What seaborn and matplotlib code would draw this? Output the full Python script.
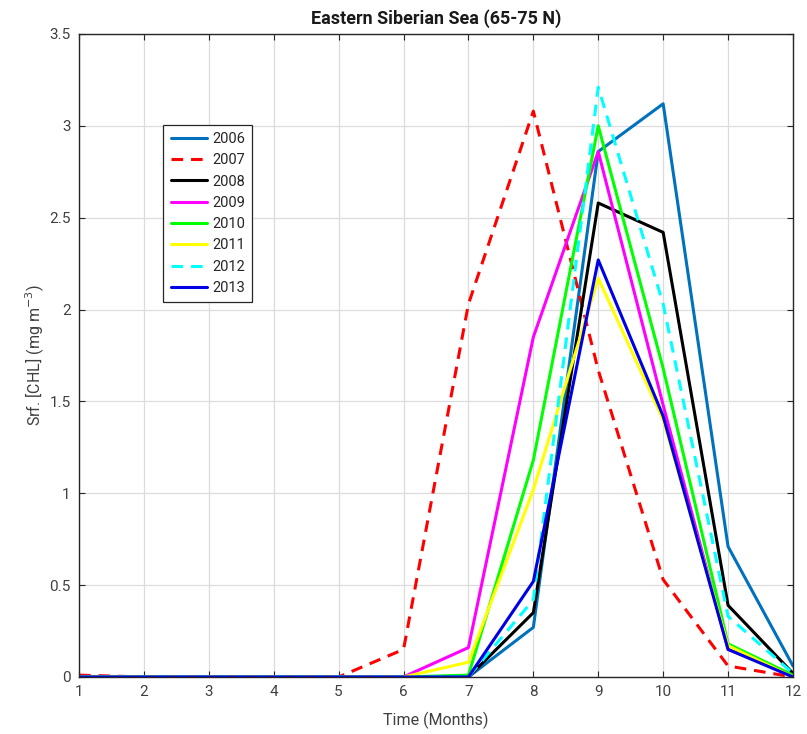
import numpy as np
import pandas as pd
import matplotlib
matplotlib.use("Agg")
import matplotlib.pyplot as plt
import seaborn as sns

# Monthly surface chlorophyll (mg m^-3), Eastern Siberian Sea, 65-75 N
months = [1, 2, 3, 4, 5, 6, 7, 8, 9, 10, 11, 12]
years = ["2006", "2007", "2008", "2009", "2010", "2011", "2012", "2013"]

chl_2006 = [0.0, 0.0, 0.0, 0.0, 0.0, 0.0, 0.0, 0.27, 2.86, 3.12, 0.71, 0.06]
chl_2007 = [0.01, 0.0, 0.0, 0.0, 0.0, 0.15, 2.03, 3.08, 1.67, 0.53, 0.06, 0.0]
chl_2008 = [0.0, 0.0, 0.0, 0.0, 0.0, 0.0, 0.0, 0.35, 2.58, 2.42, 0.39, 0.02]
chl_2009 = [0.0, 0.0, 0.0, 0.0, 0.0, 0.0, 0.16, 1.85, 2.86, 1.48, 0.15, 0.01]
chl_2010 = [0.0, 0.0, 0.0, 0.0, 0.0, 0.0, 0.01, 1.18, 3.00, 1.68, 0.18, 0.01]
chl_2011 = [0.0, 0.0, 0.0, 0.0, 0.0, 0.0, 0.08, 1.02, 2.17, 1.40, 0.17, 0.0]
chl_2012 = [0.0, 0.0, 0.0, 0.0, 0.0, 0.0, 0.0, 0.42, 3.21, 2.03, 0.33, 0.02]
chl_2013 = [0.0, 0.0, 0.0, 0.0, 0.0, 0.0, 0.0, 0.52, 2.27, 1.42, 0.15, 0.0]

series = [chl_2006, chl_2007, chl_2008, chl_2009,
          chl_2010, chl_2011, chl_2012, chl_2013]

colors = {"2006": "#0072BD", "2007": "#FF0000", "2008": "#000000",
          "2009": "#FF00FF", "2010": "#00FF00", "2011": "#FFFF00",
          "2012": "#00FFFF", "2013": "#0000E6"}
dashed = {"2007", "2012"}

df = pd.DataFrame({
    "month": np.tile(months, len(years)),
    "chl": np.concatenate(series),
    "year": np.repeat(years, len(months)),
})

sns.set_style("whitegrid")
plt.rcParams["font.family"] = ["Roboto", "DejaVu Sans"]

fig = plt.figure(figsize=(8.07, 7.34), dpi=100)
ax = fig.add_axes([0.0979, 0.0777, 0.8847, 0.876])

for yr in years:
    sub = df[df["year"] == yr]
    sns.lineplot(data=sub, x="month", y="chl", ax=ax, color=colors[yr],
                 linewidth=2.2, label=yr, legend=False)
    ln = ax.lines[-1]
    if yr in dashed:
        ln.set_dashes((3.8, 2.6))

ax.set_xlim(1, 12)
ax.set_ylim(0, 3.5)
ax.set_xticks(months)
ax.set_yticks([0, 0.5, 1, 1.5, 2, 2.5, 3, 3.5])
ax.set_yticklabels(["0", "0.5", "1", "1.5", "2", "2.5", "3", "3.5"])

ax.grid(True, color="#dcdcdc", linewidth=0.9)
for sp in ax.spines.values():
    sp.set_visible(True)
    sp.set_color("#262626")
    sp.set_linewidth(1.0)

ax.tick_params(axis="both", which="both", direction="in", length=4, width=0.8,
               color="#262626", labelsize=11, labelcolor="#404040",
               top=True, right=True, bottom=True, left=True, pad=6)

ax.set_xlabel("Time (Months)", fontsize=11.5, color="#404040", labelpad=9)
ax.set_ylabel("Srf. [CHL] (mg m$^{-3}$)", fontsize=11.5, color="#404040", labelpad=2)
ax.set_title("Eastern Siberian Sea (65-75 N)", fontsize=13, fontweight="bold",
             color="#1a1a1a", pad=7)

leg = ax.legend(loc="upper left", bbox_to_anchor=(0.118, 0.859), fontsize=10.5,
                frameon=True, fancybox=False, framealpha=1, edgecolor="#262626",
                handlelength=2.5, handletextpad=0.35, labelspacing=0.5,
                borderpad=0.5, borderaxespad=0)
leg.get_frame().set_linewidth(0.9)
for t in leg.get_texts():
    t.set_color("#262626")

fig.savefig("out.png", dpi=100, facecolor="white")
